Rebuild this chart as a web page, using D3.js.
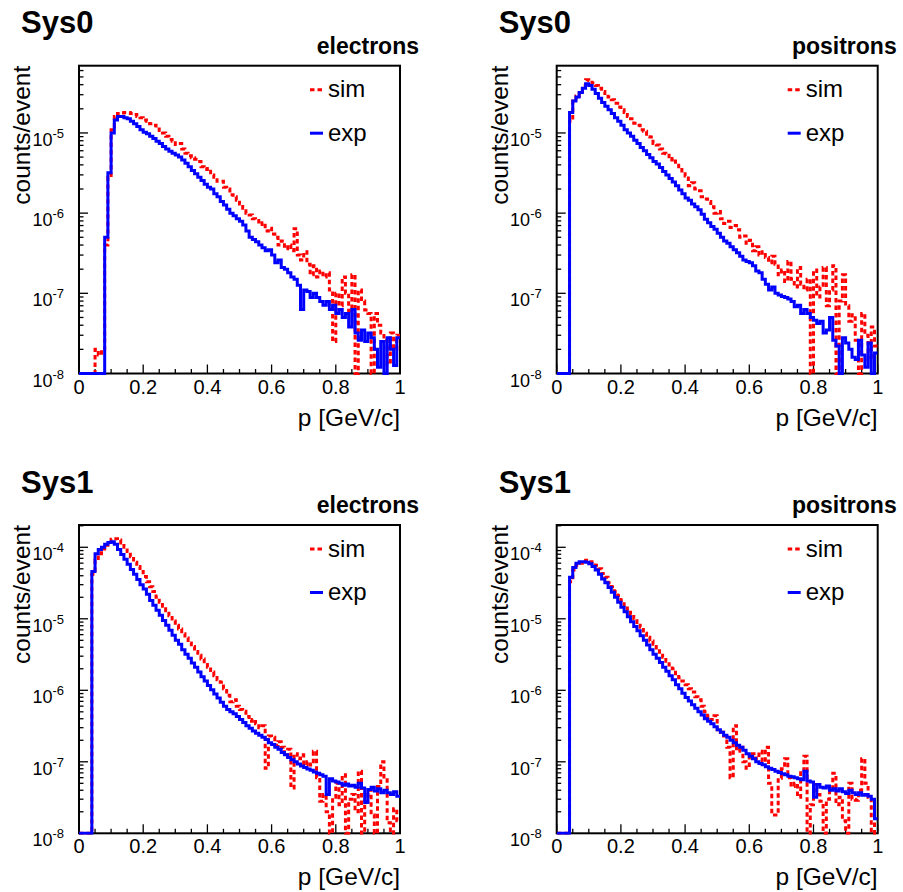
<!DOCTYPE html>
<html>
<head>
<meta charset="utf-8">
<script src="https://cdn.jsdelivr.net/npm/d3@7"></script>
<style>
  body { margin: 0; background: #fff; }
  svg { display: block; }
  text { font-family: "Liberation Sans", Arial, Helvetica, sans-serif; fill: #000; }
</style>
</head>
<body>
<svg id="chart" width="903" height="892"></svg>
<script>
// Momentum spectra, 100 bins of 0.01 GeV/c from 0 to 1 (counts/event per bin).
const binWidth = 0.01;

const sys0ElectronsSim = [
  0,0,0,0,0,2.0e-8,1.7e-8,2.0e-8,4e-7,2.8e-6,
  1.1e-5,1.6e-5,1.75e-5,1.78e-5,1.8e-5,1.8e-5,1.75e-5,1.7e-5,1.6e-5,1.55e-5,
  1.45e-5,1.4e-5,1.3e-5,1.25e-5,1.12e-5,1.07e-5,1.0e-5,9.1e-6,8.3e-6,7.9e-6,
  7.2e-6,7.4e-6,6.3e-6,5.6e-6,5.2e-6,4.9e-6,4.7e-6,4.4e-6,3.8e-6,3.5e-6,
  3.6e-6,3.0e-6,2.8e-6,2.5e-6,2.5e-6,2.1e-6,2.0e-6,1.7e-6,1.6e-6,1.45e-6,
  1.3e-6,1.15e-6,1.0e-6,9.5e-7,8.5e-7,8.1e-7,7.2e-7,7.6e-7,6.0e-7,6.5e-7,
  5.5e-7,5.0e-7,4.0e-7,4.5e-7,3.6e-7,4.0e-7,3.4e-7,6.4e-7,3.0e-7,2.6e-7,
  3.3e-7,2.3e-7,1.7e-7,2.2e-7,1.6e-7,1.9e-7,1.6e-7,1.8e-7,1.1e-7,2.5e-8,
  1.0e-7,7e-8,1.6e-7,1.0e-7,6e-8,1.7e-7,0,1.1e-7,8e-8,6.2e-8,
  5.6e-8,0,5.6e-8,4e-8,3.2e-8,2.6e-8,1.3e-8,3.2e-8,2.0e-8,3e-8
];
const sys0ElectronsExp = [
  0,0,0,0,0,0,0,0,5e-7,3.2e-6,
  1.0e-5,1.45e-5,1.6e-5,1.6e-5,1.55e-5,1.5e-5,1.4e-5,1.3e-5,1.2e-5,1.1e-5,
  1.02e-5,9.8e-6,9.1e-6,8.5e-6,7.9e-6,7.4e-6,6.8e-6,6.3e-6,5.9e-6,5.6e-6,
  5.3e-6,5.0e-6,4.6e-6,4.2e-6,3.8e-6,3.4e-6,3.1e-6,2.8e-6,2.55e-6,2.3e-6,
  2.1e-6,2.0e-6,1.74e-6,1.6e-6,1.4e-6,1.26e-6,1.12e-6,1.0e-6,9.3e-7,8.5e-7,
  7.9e-7,7.1e-7,6.0e-7,5.0e-7,4.7e-7,4.4e-7,4.0e-7,3.7e-7,3.4e-7,3.5e-7,
  3.0e-7,2.4e-7,2.6e-7,2.1e-7,2.0e-7,1.8e-7,1.6e-7,1.5e-7,1.26e-7,6.3e-8,
  1.1e-7,1.05e-7,8.9e-8,1.0e-7,8.9e-8,7.9e-8,7.1e-8,7.9e-8,6.3e-8,7.1e-8,
  5.6e-8,6.3e-8,5.0e-8,5.6e-8,3.8e-8,6.3e-8,3.2e-8,2.6e-8,3.5e-8,2.5e-8,
  3.2e-8,2.8e-8,2.0e-8,1.2e-8,2.5e-8,0,2.8e-8,2.0e-8,1.26e-8,2.8e-8
];
const sys0PositronsSim = [
  0,0,0,0,1.4e-5,2.5e-5,2.9e-5,3.3e-5,3.9e-5,4.6e-5,
  4.5e-5,4.2e-5,3.9e-5,3.6e-5,3.3e-5,3.1e-5,2.8e-5,2.6e-5,2.35e-5,2.1e-5,
  1.95e-5,1.8e-5,1.6e-5,1.5e-5,1.32e-5,1.25e-5,1.1e-5,1.05e-5,9.0e-6,8.9e-6,
  7.4e-6,7.1e-6,6.3e-6,5.6e-6,5.5e-6,4.6e-6,4.8e-6,4.3e-6,3.5e-6,3.1e-6,
  2.9e-6,2.2e-6,2.4e-6,2.0e-6,1.9e-6,1.6e-6,1.5e-6,1.4e-6,1.2e-6,1.0e-6,
  1.05e-6,8.5e-7,7.4e-7,7.9e-7,6.6e-7,7.0e-7,6.2e-7,5.0e-7,5.2e-7,4.2e-7,
  4.6e-7,3.4e-7,3.8e-7,3.0e-7,3.3e-7,2.8e-7,2.4e-7,2.9e-7,2.3e-7,1.7e-7,
  1.95e-7,1.4e-7,2.5e-7,1.5e-7,1.2e-7,2.1e-7,1.3e-7,1.1e-7,1.5e-7,0,
  1.95e-7,9e-8,1.2e-7,2.1e-7,7e-8,1.1e-7,2.2e-7,0,8e-8,1.7e-7,
  7e-8,4.5e-8,5.4e-8,2.6e-8,0,5.6e-8,3e-8,1.5e-8,3.8e-8,2.2e-8
];
const sys0PositronsExp = [
  0,0,0,0,1.8e-5,2.5e-5,2.8e-5,3.2e-5,3.6e-5,4.1e-5,
  3.9e-5,3.5e-5,3.1e-5,2.7e-5,2.4e-5,2.15e-5,1.95e-5,1.75e-5,1.55e-5,1.4e-5,
  1.25e-5,1.1e-5,1.0e-5,9.1e-6,8.1e-6,7.4e-6,6.6e-6,6.0e-6,5.4e-6,4.9e-6,
  4.4e-6,4.1e-6,3.7e-6,3.3e-6,3.0e-6,2.7e-6,2.45e-6,2.2e-6,1.95e-6,1.75e-6,
  1.55e-6,1.45e-6,1.3e-6,1.2e-6,1.1e-6,9.7e-7,8.4e-7,7.6e-7,6.8e-7,6.3e-7,
  5.6e-7,5.0e-7,4.5e-7,4.2e-7,3.8e-7,3.5e-7,3.2e-7,2.9e-7,2.6e-7,2.5e-7,
  2.4e-7,2.2e-7,1.9e-7,1.8e-7,1.5e-7,1.3e-7,1.1e-7,1.2e-7,1.0e-7,9.5e-8,
  9.1e-8,8.9e-8,8.5e-8,7.9e-8,6.8e-8,7.1e-8,5.6e-8,6.3e-8,5.6e-8,5.0e-8,
  4.6e-8,4.2e-8,4.5e-8,3.2e-8,3.5e-8,5.0e-8,2.6e-8,2.2e-8,0,2.8e-8,
  2.4e-8,2.0e-8,1.6e-8,1.5e-8,2.6e-8,1.7e-8,1.2e-8,2.4e-8,0,1.8e-8
];
const sys1ElectronsSim = [
  0,0,0,0,4.2e-5,6.6e-5,8.1e-5,9.5e-5,1.07e-4,1.18e-4,
  1.3e-4,1.32e-4,1.26e-4,1.15e-4,1.0e-4,8.7e-5,7.4e-5,6.2e-5,5.4e-5,4.6e-5,
  3.9e-5,3.3e-5,2.8e-5,2.4e-5,2.0e-5,1.7e-5,1.5e-5,1.3e-5,1.1e-5,9.3e-6,
  8.1e-6,7.2e-6,6.2e-6,5.4e-6,4.6e-6,4.1e-6,3.5e-6,3.1e-6,2.75e-6,2.3e-6,
  2.1e-6,1.8e-6,1.6e-6,1.4e-6,1.3e-6,1.05e-6,8.5e-7,6.9e-7,7.4e-7,6.0e-7,
  5.4e-7,5.1e-7,4.3e-7,3.7e-7,3.9e-7,3.4e-7,3.0e-7,3.2e-7,8.1e-8,2.3e-7,
  2.2e-7,1.7e-7,1.9e-7,1.6e-7,1.2e-7,1.5e-7,4.3e-8,1.3e-7,1.1e-7,1.25e-7,
  9e-8,1.0e-7,9e-8,1.4e-7,6e-8,2.8e-8,3.5e-8,2.0e-8,0,3.2e-8,
  5e-8,2.5e-8,6.6e-8,0,3e-8,3.5e-8,2e-8,7.4e-8,0,2.8e-8,
  4e-8,1.8e-8,0,4.5e-8,1.0e-7,5.6e-8,1.4e-8,0,2.2e-8,1.5e-8
];
const sys1ElectronsExp = [
  0,0,0,0,4.6e-5,8.1e-5,9.3e-5,1.0e-4,1.1e-4,1.17e-4,
  1.2e-4,1.1e-4,9.3e-5,7.9e-5,6.8e-5,5.8e-5,4.9e-5,4.2e-5,3.55e-5,3.0e-5,
  2.6e-5,2.2e-5,1.8e-5,1.55e-5,1.32e-5,1.12e-5,9.5e-6,8.1e-6,6.9e-6,5.9e-6,
  5.0e-6,4.4e-6,3.7e-6,3.2e-6,2.8e-6,2.4e-6,2.1e-6,1.8e-6,1.55e-6,1.35e-6,
  1.17e-6,1.02e-6,8.9e-7,7.8e-7,6.8e-7,6.0e-7,5.4e-7,5.0e-7,4.7e-7,4.3e-7,
  3.9e-7,3.55e-7,3.2e-7,2.95e-7,2.7e-7,2.5e-7,2.35e-7,2.2e-7,2.05e-7,1.85e-7,
  1.75e-7,1.6e-7,1.5e-7,1.35e-7,1.25e-7,1.15e-7,1.07e-7,1.0e-7,9.3e-8,8.7e-8,
  8.3e-8,7.9e-8,7.6e-8,7.2e-8,6.9e-8,6.6e-8,6.3e-8,3.5e-8,5.8e-8,5.4e-8,
  5.2e-8,5.0e-8,4.7e-8,4.9e-8,4.6e-8,4.7e-8,4.4e-8,5.0e-8,4.3e-8,2.7e-8,
  4.1e-8,4.4e-8,3.9e-8,4.2e-8,3.7e-8,4.0e-8,3.7e-8,3.5e-8,3.8e-8,3.3e-8
];
const sys1PositronsSim = [
  0,0,0,0,3.3e-5,4.8e-5,5.6e-5,6.0e-5,6.5e-5,6.6e-5,
  6.3e-5,6.0e-5,5.6e-5,5.0e-5,4.3e-5,3.8e-5,3.2e-5,2.8e-5,2.4e-5,2.1e-5,
  1.8e-5,1.55e-5,1.3e-5,1.15e-5,1.0e-5,8.9e-6,7.6e-6,6.3e-6,5.5e-6,4.9e-6,
  4.4e-6,3.9e-6,3.4e-6,2.9e-6,2.55e-6,2.25e-6,2.0e-6,1.7e-6,1.5e-6,1.35e-6,
  1.2e-6,1.05e-6,9.5e-7,8.1e-7,7.4e-7,6.0e-7,5.0e-7,4.3e-7,3.9e-7,4.4e-7,
  2.8e-7,2.6e-7,2.3e-7,1.6e-7,6.0e-8,3.2e-7,1.4e-7,1.6e-7,1.0e-7,8.1e-8,
  1.2e-7,1.3e-7,1.1e-7,1.4e-7,1.0e-7,1.6e-7,5.0e-8,1.8e-8,1.8e-8,5.9e-8,
  8e-8,1.1e-7,6e-8,4.5e-8,5e-8,3.2e-8,7e-8,1.2e-7,0,2.5e-8,
  4.8e-8,3.5e-8,2.8e-8,0,3e-8,4e-8,6.9e-8,2.5e-8,3.2e-8,1.5e-8,
  0,5e-8,3e-8,2.9e-8,4e-8,1.1e-7,5e-8,3.2e-8,0,2.2e-8
];
const sys1PositronsExp = [
  0,0,0,0,3.8e-5,5.2e-5,6.0e-5,6.3e-5,6.3e-5,6.2e-5,
  5.9e-5,5.4e-5,4.8e-5,4.2e-5,3.6e-5,3.2e-5,2.75e-5,2.35e-5,2.0e-5,1.7e-5,
  1.45e-5,1.25e-5,1.07e-5,9.1e-6,7.8e-6,6.8e-6,5.8e-6,5.0e-6,4.3e-6,3.7e-6,
  3.2e-6,2.8e-6,2.45e-6,2.1e-6,1.85e-6,1.6e-6,1.4e-6,1.2e-6,1.05e-6,9.1e-7,
  7.9e-7,7.1e-7,6.3e-7,5.6e-7,5.0e-7,4.5e-7,4.0e-7,3.7e-7,3.4e-7,3.1e-7,
  2.8e-7,2.6e-7,2.35e-7,2.2e-7,2.0e-7,1.85e-7,1.7e-7,1.6e-7,1.45e-7,1.3e-7,
  1.2e-7,1.1e-7,1.0e-7,9.5e-8,9.1e-8,8.5e-8,8.1e-8,7.8e-8,7.4e-8,7.1e-8,
  6.8e-8,6.6e-8,6.3e-8,6.2e-8,6.0e-8,5.8e-8,5.6e-8,7.4e-8,5.4e-8,5.2e-8,
  3.2e-8,4.8e-8,4.4e-8,4.3e-8,4.6e-8,4.0e-8,4.2e-8,3.9e-8,4.2e-8,3.8e-8,
  3.6e-8,4.0e-8,3.7e-8,3.5e-8,3.7e-8,3.4e-8,3.5e-8,3.3e-8,3.0e-8,1.6e-8
];

// Text and axis settings
const systemNames = ["Sys0", "Sys0", "Sys1", "Sys1"];
const particleNames = ["electrons", "positrons", "electrons", "positrons"];
const legendNames = ["sim", "exp"];
const xTickValues = [0, 0.2, 0.4, 0.6, 0.8, 1];
const xTickLabels = ["0", "0.2", "0.4", "0.6", "0.8", "1"];
const xTitle = "p [GeV/c]";
const yTitle = "counts/event";
const yMin = 1e-8;
const yMaxes = [6.9e-5, 6.9e-5, 2.05e-4, 2.05e-4];
const simSeries = [sys0ElectronsSim, sys0PositronsSim, sys1ElectronsSim, sys1PositronsSim];
const expSeries = [sys0ElectronsExp, sys0PositronsExp, sys1ElectronsExp, sys1PositronsExp];

// Pad frames
const frames = [
  { left: 79,    top: 65.7, bottom: 373.5 },
  { left: 556.7, top: 65.7, bottom: 373.5 },
  { left: 79,    top: 525,  bottom: 833.3 },
  { left: 556.7, top: 525,  bottom: 833.3 }
];
const frameWidth = 321;
const simColor = "#ff0000";
const expColor = "#0000ff";
const simDash = "4.5,3";

const svg = d3.select("#chart");

frames.forEach((f, k) => {
  const right = f.left + frameWidth;
  const g = svg.append("g");
  const x = d3.scaleLinear().domain([0, 1]).range([f.left, right]);
  const y = d3.scaleLog().domain([yMin, yMaxes[k]]).range([f.bottom, f.top]).clamp(true);

  // Frame
  g.append("rect")
    .attr("x", f.left).attr("y", f.top)
    .attr("width", frameWidth).attr("height", f.bottom - f.top)
    .attr("fill", "none").attr("stroke", "#000").attr("stroke-width", 2);

  // X ticks (major every 0.2, minor every 0.05), drawn inward
  d3.range(0, 21).forEach(j => {
    const v = j * 0.05;
    const major = j % 4 === 0;
    g.append("line")
      .attr("x1", x(v)).attr("x2", x(v))
      .attr("y1", f.bottom).attr("y2", f.bottom - (major ? 9 : 4.5))
      .attr("stroke", "#000").attr("stroke-width", 1.3);
  });
  xTickValues.forEach((v, j) => {
    g.append("text")
      .attr("x", x(v)).attr("y", f.bottom + 20)
      .attr("text-anchor", "middle").attr("font-size", 20)
      .text(xTickLabels[j]);
  });

  // Y ticks: decades and 2..9 sub-ticks
  const topExp = Math.floor(Math.log10(yMaxes[k]));
  for (let e = -8; e <= topExp; e++) {
    for (let m = 1; m <= 9; m++) {
      const v = m * Math.pow(10, e);
      if (v > yMaxes[k] * 1.0001) continue;
      g.append("line")
        .attr("x1", f.left).attr("x2", f.left + (m === 1 ? 9 : 4.5))
        .attr("y1", y(v)).attr("y2", y(v))
        .attr("stroke", "#000").attr("stroke-width", 1.3);
    }
    const lab = g.append("text")
      .attr("x", f.left - 15).attr("y", y(Math.pow(10, e)) + 13)
      .attr("text-anchor", "end")
      .attr("font-size", 18);
    lab.append("tspan").text("10");
    lab.append("tspan").attr("dy", -8).attr("font-size", 13).text(String(e));
  }

  // Axis titles
  g.append("text")
    .attr("x", right).attr("y", f.bottom + 52)
    .attr("text-anchor", "end").attr("font-size", 24.5)
    .text(xTitle);
  g.append("text")
    .attr("transform", `translate(${f.left - 49},${f.top}) rotate(-90)`)
    .attr("text-anchor", "end").attr("font-size", 24.5)
    .text(yTitle);

  // Pad titles
  g.append("text")
    .attr("x", f.left - 58).attr("y", f.top - 32.5)
    .attr("font-size", 31).attr("font-weight", "bold")
    .text(systemNames[k]);
  g.append("text")
    .attr("x", right + 19).attr("y", f.top - 12)
    .attr("text-anchor", "end").attr("font-size", 23).attr("font-weight", "bold")
    .text(particleNames[k]);

  // Histograms (clipped to the frame)
  const clipId = "clip" + k;
  svg.append("clipPath").attr("id", clipId)
    .append("rect")
    .attr("x", f.left).attr("y", f.top)
    .attr("width", frameWidth).attr("height", f.bottom - f.top + 1.5);

  const step = d3.line()
    .x(d => x(d[0]))
    .y(d => y(Math.max(d[1], yMin)))
    .curve(d3.curveStepAfter);
  const toSteps = vals => vals.map((v, i) => [i * binWidth, v]).concat([[1, vals[vals.length - 1]]]);

  const plot = g.append("g").attr("clip-path", `url(#${clipId})`);
  plot.append("path")
    .attr("d", step(toSteps(simSeries[k])))
    .attr("fill", "none").attr("stroke", simColor).attr("stroke-width", 3)
    .attr("stroke-dasharray", simDash);
  plot.append("path")
    .attr("d", step(toSteps(expSeries[k])))
    .attr("fill", "none").attr("stroke", expColor).attr("stroke-width", 3);

  // Legend
  const legendY = [f.top + 24, f.top + 67.5];
  const styles = [{ c: simColor, dash: simDash }, { c: expColor, dash: null }];
  legendNames.forEach((name, j) => {
    g.append("line")
      .attr("x1", right - 90).attr("x2", right - 77)
      .attr("y1", legendY[j]).attr("y2", legendY[j])
      .attr("stroke", styles[j].c).attr("stroke-width", 3)
      .attr("stroke-dasharray", styles[j].dash);
    g.append("text")
      .attr("x", right - 72).attr("y", legendY[j] + 7.5)
      .attr("font-size", 24)
      .text(name);
  });
});
</script>
</body>
</html>
